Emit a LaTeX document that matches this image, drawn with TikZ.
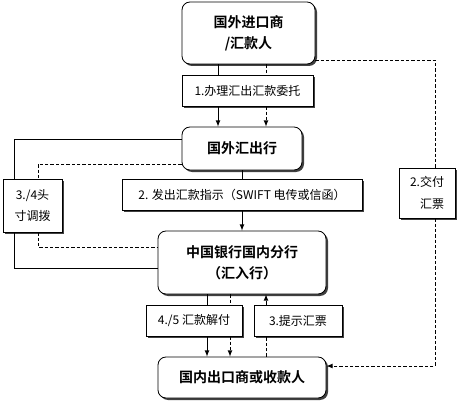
\documentclass[tikz,border=0pt]{standalone}
\usepackage{fontspec}
\setmainfont{Noto Sans CJK SC}[BoldFont={Noto Sans CJK SC Bold}]
\usetikzlibrary{shadows}

\begin{document}
\begin{tikzpicture}[
        x=0.75pt, y=-0.75pt, % 1 unit = 1 px of the reference
        >=latex,
        line width=0.6pt,
        shade/.style={drop shadow={shadow xshift=1.5pt, shadow yshift=-1.5pt, fill=black!75, opacity=1}},
        cell/.style={draw, fill=white, rounded corners=6pt, shade, align=center, inner sep=0pt,
                     font=\bfseries\fontsize{10.5}{16}\selectfont}, % main nodes
        kant/.style={draw, fill=white, shade, align=center, inner sep=0pt,
                     font=\fontsize{9}{16}\selectfont}, % label boxes
        dline/.style={dash pattern=on 2.5pt off 1.5pt},
    ]
    \useasboundingbox (0,0) rectangle (461,403);

    \node[cell, minimum width=99.75pt, minimum height=46.5pt] (imp) at (248.5,33) {国外进口商\\/汇款人};
    \node[kant, minimum width=98.25pt, minimum height=23.25pt] (lab1) at (247.5,90.5) {1.办理汇出汇款委托};
    \node[cell, minimum width=90pt, minimum height=32.25pt] (remit) at (242,148.5) {国外汇出行};
    \node[kant, minimum width=44.25pt, minimum height=39.75pt] (lab34) at (32.5,205.5) {3./4头\\寸调拨};
    \node[kant, minimum width=180pt, minimum height=23.25pt] (lab2) at (242,194.5) {2. 发出汇款指示（SWIFT 电传或信函）};
    \node[kant, minimum width=42pt, minimum height=37.5pt, align=right] (labdraft) at (427,193) {2.交付\\汇票};
    \node[cell, minimum width=126pt, minimum height=47.25pt] (boc) at (242,262.5) {中国银行国内分行\\（汇入行）};
    \node[kant, minimum width=72pt, minimum height=23.25pt] (lab45) at (194,320.5) {4./5 汇款解付};
    \node[kant, minimum width=66pt, minimum height=23.25pt] (lab3) at (298,320.5) {3.提示汇票};
    \node[cell, minimum width=126pt, minimum height=30.75pt] (exp) at (242,377.5) {国内出口商或收款人};

    % 1. importer -> remitting bank
    \draw (imp.south -| 218,0) -- (lab1.north -| 218,0);
    \draw[->] (lab1.south -| 218,0) -- (remit.north -| 218,0);
    \draw[dline] (imp.south -| 266,0) -- (lab1.north -| 266,0);
    \draw[dline, ->] (lab1.south -| 266,0) -- (remit.north -| 266,0);

    % 2. remitting bank -> paying bank
    \draw (remit.south) -- (lab2.north);
    \draw[->] (lab2.south) -- (boc.north);

    % 3./4 cover
    \draw (remit.west |- 0,139) -| (14,0 |- lab34.north);
    \draw (14,0 |- lab34.south) |- (boc.west |- 0,268);
    \draw[dline] (remit.west |- 0,164) -| (38,0 |- lab34.north);
    \draw[dline] (38,0 |- lab34.south) |- (boc.west |- 0,247);

    % 2. draft to exporter
    \draw[dline] (imp.east |- 0,60) -| (435,0 |- labdraft.north);
    \draw[dline, ->] (435,0 |- labdraft.south) |- (exp.east |- 0,366);

    % 4./5 payment
    \draw (boc.south -| 207,0) -- (lab45.north -| 207,0);
    \draw[->] (lab45.south -| 207,0) -- (exp.north -| 207,0);
    \draw[dline] (boc.south -| 230,0) -- (lab45.north -| 230,0);
    \draw[dline, ->] (lab45.south -| 230,0) -- (exp.north -| 230,0);

    % 3. presenting the draft
    \draw[dline] (exp.north -| 266,0) -- (lab3.south -| 266,0);
    \draw[dline, ->] (lab3.north -| 266,0) -- (boc.south -| 266,0);
\end{tikzpicture}
\end{document}
